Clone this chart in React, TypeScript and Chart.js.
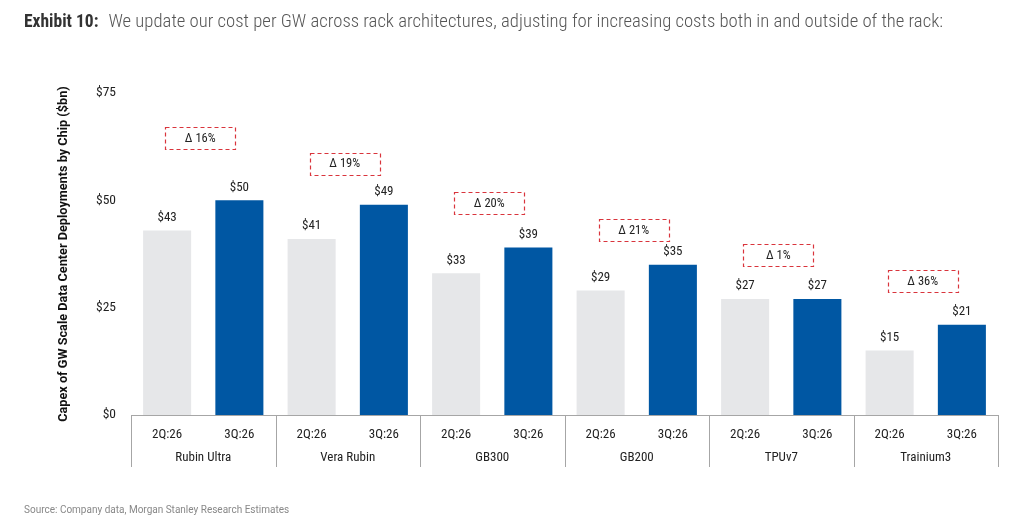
import { useEffect, useRef } from 'react';
import { Chart, registerables } from 'chart.js';

Chart.register(...registerables);

const chips = ['Rubin Ultra', 'Vera Rubin', 'GB300', 'GB200', 'TPUv7', 'Trainium3'];
const quarters = ['2Q:26', '3Q:26'];
const capex2Q = [43, 41, 33, 29, 27, 15];
const capex3Q = [50, 49, 39, 35, 27, 21];
const deltaLabels = ['Δ 16%', 'Δ 19%', 'Δ 20%', 'Δ 21%', 'Δ 1%', 'Δ 36%'];
// height (in $bn) at which each dashed delta box sits
const deltaLevels = [64.5, 58.5, 49.3, 43.1, 37.2, 31.1];

const GREY = '#E6E7E9';
const BLUE = '#0057A3';
const FONT = "'Roboto Condensed', 'Liberation Sans Narrow', Roboto, sans-serif";

const valueLabels = {
  id: 'valueLabels',
  afterDatasetsDraw(chart: any) {
    const { ctx } = chart;
    const meta = chart.getDatasetMeta(0);
    const values = chart.data.datasets[0].data as number[];
    ctx.save();
    ctx.font = `13px ${FONT}`;
    ctx.fillStyle = '#222';
    ctx.textAlign = 'center';
    ctx.textBaseline = 'middle';
    meta.data.forEach((bar: any, i: number) => {
      ctx.fillText('$' + values[i], bar.x, bar.y - 13);
    });
    ctx.restore();
  },
};

const deltaBoxes = {
  id: 'deltaBoxes',
  afterDatasetsDraw(chart: any) {
    const { ctx, scales } = chart;
    const x = scales.x;
    const y = scales.y;
    ctx.save();
    ctx.font = `12.5px ${FONT}`;
    ctx.textAlign = 'center';
    ctx.textBaseline = 'middle';
    chips.forEach((_, g) => {
      const cx = (x.getPixelForValue(2 * g) + x.getPixelForValue(2 * g + 1)) / 2 - 3;
      const cy = y.getPixelForValue(deltaLevels[g]);
      ctx.strokeStyle = '#D9343C';
      ctx.lineWidth = 1.2;
      ctx.setLineDash([4, 3]);
      ctx.strokeRect(Math.round(cx - 35) + 0.5, Math.round(cy - 11) + 0.5, 70, 22);
      ctx.setLineDash([]);
      ctx.fillStyle = '#222';
      ctx.fillText(deltaLabels[g], cx, cy + 0.5);
    });
    ctx.restore();
  },
};

const groupAxis = {
  id: 'groupAxis',
  afterDraw(chart: any) {
    const { ctx, scales, chartArea } = chart;
    const x = scales.x;
    const half = (x.getPixelForValue(1) - x.getPixelForValue(0)) / 2;
    const top = chartArea.bottom;
    ctx.save();
    ctx.strokeStyle = '#A6A6A6';
    ctx.lineWidth = 1;
    for (let g = 0; g <= chips.length; g++) {
      const px = g < chips.length ? x.getPixelForValue(2 * g) - half : x.getPixelForValue(2 * g - 1) + half;
      ctx.beginPath();
      ctx.moveTo(Math.round(px) + 0.5, top);
      ctx.lineTo(Math.round(px) + 0.5, top + 52);
      ctx.stroke();
    }
    ctx.font = `13px ${FONT}`;
    ctx.fillStyle = '#222';
    ctx.textAlign = 'center';
    ctx.textBaseline = 'middle';
    chips.forEach((name, g) => {
      const cx = (x.getPixelForValue(2 * g) + x.getPixelForValue(2 * g + 1)) / 2;
      ctx.fillText(name, cx, top + 43);
    });
    ctx.restore();
  },
};

const CapexChart = () => {
  const canvasRef = useRef<HTMLCanvasElement>(null);
  const chartRef = useRef<Chart | null>(null);

  useEffect(() => {
    if (!canvasRef.current) return;
    if (chartRef.current) chartRef.current.destroy();

    const labels = chips.flatMap(() => quarters);
    const values = chips.flatMap((_, i) => [capex2Q[i], capex3Q[i]]);
    const colors = chips.flatMap(() => [GREY, BLUE]);

    chartRef.current = new Chart(canvasRef.current, {
      type: 'bar',
      data: {
        labels,
        datasets: [
          {
            data: values,
            backgroundColor: colors,
            borderWidth: 0,
            barPercentage: 0.665,
            categoryPercentage: 1,
          },
        ],
      },
      options: {
        responsive: false,
        animation: false,
        layout: { padding: { left: 48, right: 26, top: 93, bottom: 0 } },
        plugins: {
          legend: { display: false },
          tooltip: { enabled: false },
        },
        scales: {
          x: {
            grid: { display: false },
            border: { display: true, color: '#A6A6A6', width: 1 },
            ticks: {
              color: '#222',
              font: { family: FONT, size: 13 },
              padding: 4,
              maxRotation: 0,
              autoSkip: false,
            },
            afterFit: (scale: any) => {
              scale.height = 113;
            },
          },
          y: {
            min: 0,
            max: 75,
            grid: { display: false },
            border: { display: false },
            ticks: {
              stepSize: 25,
              color: '#222',
              font: { family: FONT, size: 13.5 },
              padding: 7,
              callback: (v: any) => '$' + v,
            },
            title: {
              display: true,
              text: 'Capex of GW Scale Data Center Deployments by Chip ($bn)',
              color: '#111',
              font: { family: 'Roboto, sans-serif', size: 12.7, weight: 'bold' },
              padding: { top: 8, bottom: 0 },
            },
            afterFit: (scale: any) => {
              scale.width = 83;
            },
          },
        },
      },
      plugins: [valueLabels, deltaBoxes, groupAxis],
    });

    return () => {
      if (chartRef.current) {
        chartRef.current.destroy();
        chartRef.current = null;
      }
    };
  }, []);

  return (
    <canvas
      ref={canvasRef}
      width={1024}
      height={528}
      style={{ position: 'absolute', left: 0, top: 0, width: 1024, height: 528 }}
    />
  );
};

export default function App() {
  return (
    <div
      style={{
        position: 'absolute',
        left: 0,
        top: 0,
        width: 1024,
        height: 528,
        background: '#fff',
        fontFamily: 'Roboto, sans-serif',
        overflow: 'hidden',
      }}
    >
      <CapexChart />
      <div
        style={{
          position: 'absolute',
          left: 24,
          top: 10,
          lineHeight: '22px',
          color: '#555',
          whiteSpace: 'nowrap',
          fontFamily: "'Roboto Condensed', Roboto, sans-serif",
        }}
      >
        <span style={{ fontWeight: 700, color: '#333', fontSize: 17.5 }}>Exhibit 10:</span>
        <span style={{ marginLeft: 10, fontWeight: 300, fontSize: 18.7 }}>
          We update our cost per GW across rack architectures, adjusting for increasing costs both in and outside of the rack:
        </span>
      </div>
      <div
        style={{
          position: 'absolute',
          left: 24,
          top: 503,
          fontSize: 10,
          lineHeight: '13px',
          color: '#888',
          whiteSpace: 'nowrap',
        }}
      >
        Source: Company data, Morgan Stanley Research Estimates
      </div>
    </div>
  );
}
